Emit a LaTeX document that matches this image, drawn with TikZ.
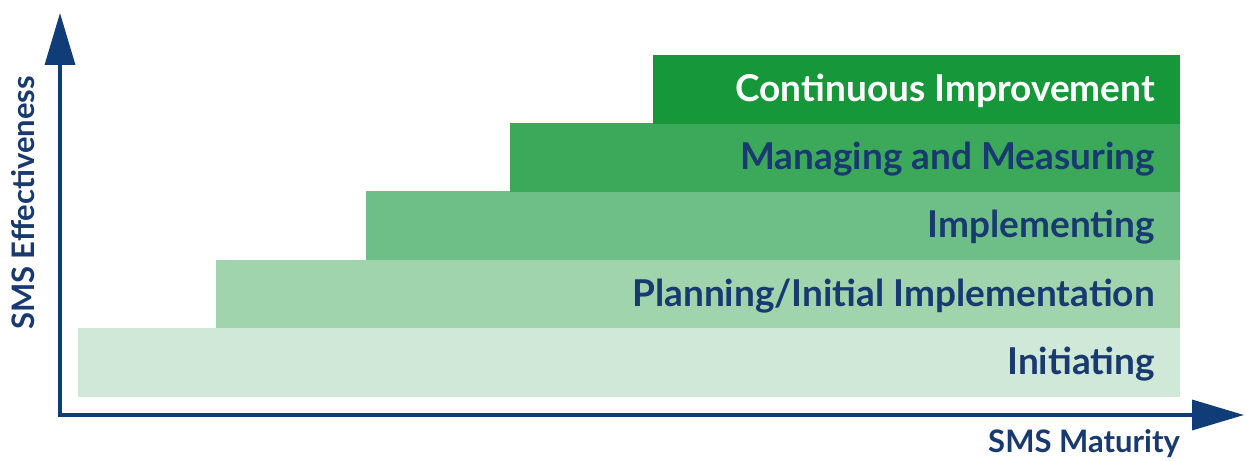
\documentclass[tikz,border=0pt]{standalone}
\usepackage{fontspec}
\setmainfont{Lato}
\usetikzlibrary{arrows.meta}
\definecolor{navy}{RGB}{16,60,120}
\definecolor{labelblue}{RGB}{24,58,112}
\definecolor{gA}{RGB}{208,232,215}
\definecolor{gB}{RGB}{160,212,172}
\definecolor{gC}{RGB}{110,191,135}
\definecolor{gD}{RGB}{60,168,90}
\definecolor{gE}{RGB}{22,152,58}
\begin{document}
\begin{tikzpicture}[x=1pt,y=1pt,
  band/.style={anchor=south west,inner sep=0pt,draw=none,minimum height=68.5pt},
  steplabel/.style={anchor=base east,inner sep=0pt,text=labelblue,font=\fontsize{37}{42}\selectfont\bfseries},
  axis/.style={navy,line width=3.5pt,-{Triangle[length=52pt,width=30pt]}},
  axislabel/.style={inner sep=0pt,text=labelblue,font=\fontsize{31}{36}\selectfont\bfseries}]
\useasboundingbox[fill=white] (0,0) rectangle (1246,460);
% staircase of maturity levels
\node[band,fill=gA,minimum width=1102pt] (initiating) at (78,63) {};
\node[band,fill=gB,minimum width=964pt] (planning) at (216,131.5) {};
\node[band,fill=gC,minimum width=814pt] (implementing) at (366,200) {};
\node[band,fill=gD,minimum width=670pt] (managing) at (510,268) {};
\node[band,fill=gE,minimum width=527pt] (continuous) at (653,336) {};
% level names
\node[steplabel] (l1) at (1155,85) {Initiating};
\node[steplabel] (l2) at (1155,153) {Planning/Initial Implementation};
\node[steplabel] (l3) at (1155,222) {Implementing};
\node[steplabel] (l4) at (1155,290) {Managing and Measuring};
\node[steplabel,text=white] (l5) at (1155,358) {Continuous Improvement};
% axes
\coordinate (origin) at (60,45);
\coordinate (ytip) at (60,447);
\coordinate (xtip) at (1244,45);
\draw[axis] ([yshift=-1.75pt]origin) -- (ytip);
\draw[axis] ([xshift=-1.75pt]origin) -- (xtip);
\node[axislabel,anchor=base east] (xlabel) at (1180,8) {SMS Maturity};
\node[axislabel,rotate=90] (ylabel) at (23,257) {SMS Effectiveness};
\end{tikzpicture}
\end{document}
